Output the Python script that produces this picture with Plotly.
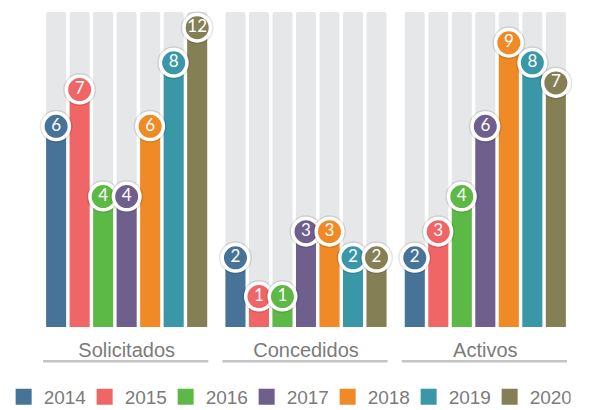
import plotly.graph_objects as go

categories = ["Solicitados", "Concedidos", "Activos"]
years = ["2014", "2015", "2016", "2017", "2018", "2019", "2020"]

# Labelled values per year (Solicitados, Concedidos, Activos)
values = {
    "2014": [6, 2, 2],
    "2015": [7, 1, 3],
    "2016": [4, 1, 4],
    "2017": [4, 3, 6],
    "2018": [6, 3, 9],
    "2019": [8, 2, 8],
    "2020": [12, 2, 7],
}
# Bar lengths as drawn in the picture (the infographic is not to scale above ~7)
drawn_heights = {
    "2014": [6.0, 2.07, 2.07],
    "2015": [7.1, 0.91, 2.85],
    "2016": [3.9, 0.91, 3.9],
    "2017": [3.9, 2.85, 6.0],
    "2018": [6.0, 2.85, 8.5],
    "2019": [7.9, 2.07, 7.9],
    "2020": [8.95, 2.07, 7.3],
}
track_top = 9.42  # height of the light grey background tracks

colors = ["#477399", "#f06566", "#5cb946", "#6e5f8d", "#ef8a26", "#3a97a8", "#857f55"]

pitch = 0.1311
bar_w = 0.1116
start = -0.4492

fig = go.Figure()

# grey tracks
for i, yr in enumerate(years):
    fig.add_trace(go.Bar(
        x=categories, y=[track_top] * len(categories),
        offset=start + i * pitch, width=bar_w,
        marker=dict(color="#e6e7e8", line=dict(width=0), cornerradius=2),
        showlegend=False, hoverinfo="skip",
    ))

# coloured bars
for i, yr in enumerate(years):
    fig.add_trace(go.Bar(
        x=categories, y=drawn_heights[yr],
        offset=start + i * pitch, width=bar_w,
        marker=dict(color=colors[i], line=dict(width=0)),
        showlegend=False, name=yr,
    ))

# value bubbles (positioned at each bar's centre via a numeric overlay axis)
for i, yr in enumerate(years):
    xs = [c + start + i * pitch + bar_w / 2 for c in range(len(categories))]
    fig.add_trace(go.Scatter(
        x=xs, y=drawn_heights[yr], xaxis="x2", mode="markers",
        marker=dict(size=33, color="rgba(0,0,0,0.10)", line=dict(width=0)),
        showlegend=False, hoverinfo="skip", cliponaxis=False,
    ))
    fig.add_trace(go.Scatter(
        x=xs, y=drawn_heights[yr], xaxis="x2", mode="markers+text",
        marker=dict(size=26.5, color=colors[i], line=dict(width=3.5, color="white")),
        text=[str(v) for v in values[yr]], textposition="middle center",
        textfont=dict(color="white", size=17, family="Lato, Liberation Sans, sans-serif"),
        showlegend=False, cliponaxis=False,
    ))

# legend entries
for i, yr in enumerate(years):
    fig.add_trace(go.Scatter(
        x=[None], y=[None], mode="markers", name=yr,
        marker=dict(symbol="square", size=17, color=colors[i]),
        showlegend=True,
    ))

# underlines under category labels
for c in range(len(categories)):
    fig.add_shape(type="line", xref="x2", yref="paper",
                  x0=c - 0.466, x1=c + 0.455, y0=-0.109, y1=-0.109,
                  line=dict(color="#c4c4c4", width=2.5))

fig.update_layout(
    width=591, height=410,
    margin=dict(l=37, r=16, t=12, b=83, autoexpand=False),
    paper_bgcolor="white", plot_bgcolor="white",
    barmode="overlay",
    font=dict(family="Liberation Sans, Arial, sans-serif", color="#7b7b7b"),
    xaxis=dict(type="category", range=[-0.5, 2.5], showgrid=False, zeroline=False,
               showline=False, ticks="", ticklabelstandoff=9,
               tickfont=dict(size=20, color="#7b7b7b")),
    xaxis2=dict(overlaying="x", range=[-0.5, 2.5], visible=False),
    yaxis=dict(range=[0, track_top], visible=False),
    legend=dict(orientation="h", x=-0.062, xanchor="left", y=-0.222, yanchor="middle",
                font=dict(size=19, color="#7b7b7b"), itemsizing="trace",
                entrywidth=36, entrywidthmode="pixels",
                bgcolor="rgba(0,0,0,0)"),
    showlegend=True,
)

fig.write_html("out.html", config={"displayModeBar": False},
               post_script="document.body.style.margin='0';document.body.style.overflow='hidden';")
